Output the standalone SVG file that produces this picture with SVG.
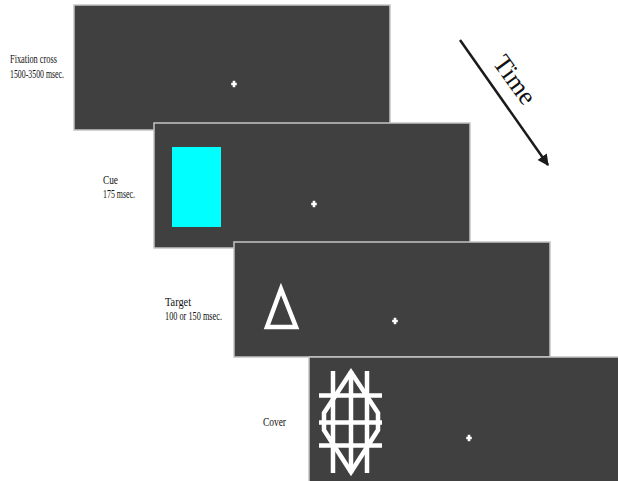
<svg xmlns="http://www.w3.org/2000/svg" width="618" height="481" viewBox="0 0 618 481">
<style>
.panel{fill:#404040;stroke:#c4c4c4;stroke-width:1.5}
.fix{fill:#ffffff}
.lbl{font-family:"Liberation Serif","Times New Roman",serif;font-size:11.5px;fill:#111}
.shape{fill:none;stroke:#ffffff;stroke-width:4.5}
</style>
<defs>
<g id="cross"><rect x="-1.3" y="-3.2" width="2.6" height="6.4" class="fix"/><rect x="-2.8" y="-1.2" width="5.6" height="2.4" class="fix"/></g>
<marker id="ah" viewBox="0 0 10 10" refX="9" refY="5" markerWidth="6" markerHeight="4.5" orient="auto" markerUnits="strokeWidth"><path d="M0,0 L10,5 L0,10 Z" fill="#1a1a1a"/></marker>
</defs>
<rect width="618" height="481" fill="#ffffff"/>
<g id="fixation">
<rect class="panel" x="74" y="5" width="316" height="125"/>
<use href="#cross" x="234" y="84"/>
<text class="lbl" x="10" y="62.5" textLength="47" lengthAdjust="spacingAndGlyphs">Fixation cross</text>
<text class="lbl" x="10" y="77.5" textLength="54" lengthAdjust="spacingAndGlyphs">1500-3500 msec.</text>
</g>
<g id="cue">
<rect class="panel" x="154" y="123" width="316" height="125"/>
<rect x="172" y="147" width="49" height="80" fill="#00ffff"/>
<use href="#cross" x="314" y="204"/>
<text class="lbl" x="103" y="184" textLength="15" lengthAdjust="spacingAndGlyphs">Cue</text>
<text class="lbl" x="103" y="198" textLength="32" lengthAdjust="spacingAndGlyphs">175 msec.</text>
</g>
<g id="target">
<rect class="panel" x="234" y="242" width="316" height="115"/>
<polygon class="shape" points="281,289 267,327 296,327" stroke-linejoin="miter"/>
<use href="#cross" x="395" y="321"/>
<text class="lbl" x="165" y="306" textLength="26" lengthAdjust="spacingAndGlyphs">Target</text>
<text class="lbl" x="165" y="320" textLength="57" lengthAdjust="spacingAndGlyphs">100 or 150 msec.</text>
</g>
<g id="cover">
<rect class="panel" x="309" y="357" width="312" height="128"/>
<g class="shape">
<line x1="333" y1="371" x2="333" y2="473"/>
<line x1="351" y1="371" x2="351" y2="473"/>
<line x1="367" y1="371" x2="367" y2="473"/>
<line x1="319" y1="395.5" x2="382" y2="395.5"/>
<line x1="319" y1="422.5" x2="382" y2="422.5"/>
<line x1="319" y1="445.5" x2="382" y2="445.5"/>
<polygon points="351,372 324,413 324,430 351,472 378,430 378,413"/>
</g>
<use href="#cross" x="469" y="438"/>
<text class="lbl" x="263" y="425.5" textLength="23" lengthAdjust="spacingAndGlyphs">Cover</text>
</g>
<g id="connectors">
<line x1="460" y1="40" x2="548" y2="165" stroke="#1a1a1a" stroke-width="2.5" marker-end="url(#ah)"/>
<text x="0" y="0" transform="translate(492,63) rotate(54)" font-family="'Liberation Serif','Times New Roman',serif" font-size="26" fill="#111">Time</text>
</g>
</svg>
